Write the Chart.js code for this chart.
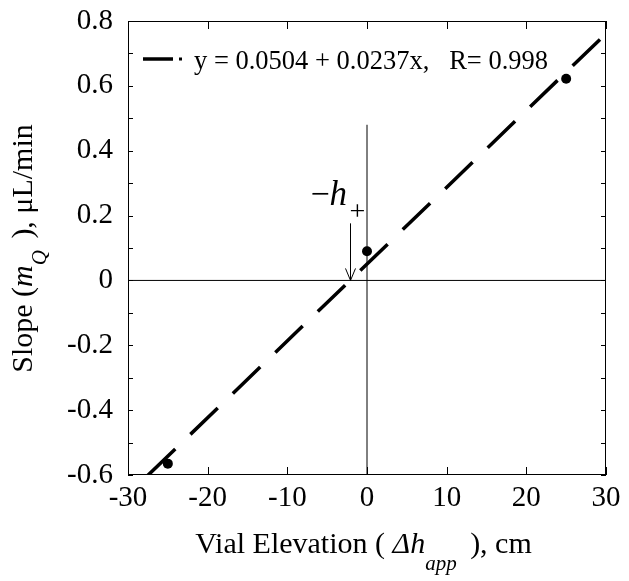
<!DOCTYPE html>
<html><head><meta charset="utf-8">
<script src="https://cdn.jsdelivr.net/npm/chart.js@4/dist/chart.umd.min.js"></script>
<style>html,body{margin:0;padding:0;background:#fff;} canvas{display:block;}</style>
</head><body>
<canvas id="c" width="629" height="581"></canvas>
<script>
// ---- data ----
const elevations = [-25, 0, 25];
const slopes = [-0.565, 0.09, 0.622];
const fitX = [-27.5, 30];
const fitY = [-0.601, 0.761];
const xTicks = [-30, -20, -10, 0, 10, 20, 30];
const yTicks = [-0.6, -0.4, -0.2, 0, 0.2, 0.4, 0.6, 0.8];
const yMinorTicks = [-0.5, -0.3, -0.1, 0.1, 0.3, 0.5, 0.7];
const vAxisX = [0, 0];
const vAxisY = [-0.6, 0.48];
const hAxisX = [-30, 30];
const hAxisY = [0, 0];
const arrowX = [-2.13, -2.13];
const arrowY = [0.176, 0];
const legendText = 'y = 0.0504 + 0.0237x,   R= 0.998';

const F = "'Liberation Serif','Times New Roman',serif";
Chart.defaults.font.family = F;
Chart.defaults.color = '#000';

function pts(xs, ys) { return xs.map((v, i) => ({x: v, y: ys[i]})); }

function drawPieces(ctx, pieces, startX, baseY) {
  let cx = startX;
  for (const p of pieces) {
    ctx.font = p.f;
    ctx.fillText(p.t, cx, baseY + (p.dy || 0));
    cx += ctx.measureText(p.t).width + (p.gap || 0);
  }
  return cx - startX;
}
function piecesWidth(ctx, pieces) {
  let w = 0;
  for (const p of pieces) { ctx.font = p.f; w += ctx.measureText(p.t).width + (p.gap || 0); }
  return w;
}

const deco = {
  id: 'deco',
  afterDraw(chart) {
    const {ctx, chartArea: a, scales: {x, y}} = chart;
    ctx.save();
    ctx.strokeStyle = '#000';
    ctx.fillStyle = '#000';
    ctx.lineWidth = 1;
    // frame
    ctx.strokeRect(a.left + 0.5, a.top + 0.5, a.right - a.left - 1, a.bottom - a.top - 1);
    // inward ticks
    ctx.beginPath();
    for (const v of xTicks) {
      const px = Math.round(x.getPixelForValue(v)) + 0.5;
      ctx.moveTo(px, a.bottom); ctx.lineTo(px, a.bottom - 8);
      ctx.moveTo(px, a.top); ctx.lineTo(px, a.top + 8);
    }
    for (const v of yTicks.concat(yMinorTicks)) {
      const py = Math.round(y.getPixelForValue(v)) + 0.5;
      ctx.moveTo(a.left, py); ctx.lineTo(a.left + 5, py);
      ctx.moveTo(a.right, py); ctx.lineTo(a.right - 5, py);
    }
    ctx.stroke();

    // legend
    ctx.lineWidth = 3.5;
    ctx.beginPath(); ctx.moveTo(143, 59); ctx.lineTo(173, 59); ctx.stroke();
    ctx.fillRect(179, 57.5, 3, 3);
    ctx.font = '26.5px ' + F;
    ctx.textBaseline = 'alphabetic';
    ctx.textAlign = 'left';
    ctx.fillText(legendText, 194, 68.5);

    // arrow annotation
    const ax = Math.round(x.getPixelForValue(arrowX[0])) + 0.5;
    const ay0 = y.getPixelForValue(arrowY[0]);
    const ay1 = y.getPixelForValue(arrowY[1]);
    ctx.lineWidth = 1;
    ctx.beginPath();
    ctx.moveTo(ax, ay0); ctx.lineTo(ax, ay1);
    ctx.moveTo(ax - 5, ay1 - 12); ctx.lineTo(ax, ay1); ctx.lineTo(ax + 5, ay1 - 12);
    ctx.stroke();
    // -h+ label
    ctx.font = '34px ' + F;
    ctx.fillText('\u2212', ax - 40, ay0 - 18);
    ctx.font = 'italic 35px ' + F;
    ctx.fillText('h', ax - 21, ay0 - 18);
    ctx.font = '28px ' + F;
    ctx.fillText('+', ax - 1, ay0 - 3);

    // x axis title
    const xp = [
      {t: 'Vial Elevation ( ', f: '30px ' + F},
      {t: '\u0394h', f: 'italic 30px ' + F},
      {t: 'app', f: 'italic 21px ' + F, dy: 17, gap: 6},
      {t: ' ), cm', f: '30px ' + F}
    ];
    const xw = piecesWidth(ctx, xp);
    drawPieces(ctx, xp, 363.5 - xw / 2, 553);

    // y axis title (rotated)
    const yp = [
      {t: 'Slope (', f: '30px ' + F},
      {t: 'm', f: 'italic 30px ' + F},
      {t: 'Q', f: 'italic 21px ' + F, dy: 14, gap: 4},
      {t: ' ), \u03bcL/min', f: '30px ' + F}
    ];
    const yw = piecesWidth(ctx, yp);
    ctx.translate(32, 248.5);
    ctx.rotate(-Math.PI / 2);
    drawPieces(ctx, yp, -yw / 2, 0);
    ctx.restore();
  }
};

new Chart(document.getElementById('c'), {
  type: 'scatter',
  data: {
    datasets: [
      {data: pts(hAxisX, hAxisY), showLine: true, borderColor: '#000', borderWidth: 1, pointRadius: 0},
      {data: pts(vAxisX, vAxisY), showLine: true, borderColor: '#000', borderWidth: 1, pointRadius: 0},
      {data: pts(fitX, fitY), showLine: true, borderColor: '#000', borderWidth: 3.5, borderDash: [38, 21], pointRadius: 0, borderCapStyle: 'butt'},
      {data: pts(elevations, slopes), showLine: false, pointRadius: 5, pointBackgroundColor: '#000', pointBorderColor: '#000', pointBorderWidth: 0}
    ]
  },
  options: {
    responsive: false,
    animation: false,
    events: [],
    layout: {padding: {left: 0, right: 23, top: 21, bottom: 0}},
    plugins: {legend: {display: false}, tooltip: {enabled: false}},
    scales: {
      x: {
        type: 'linear', min: -30, max: 30,
        afterBuildTicks: s => { s.ticks = xTicks.map(v => ({value: v})); },
        afterFit: s => { s.height = 106; s.paddingLeft = 0; s.paddingRight = 0; },
        grid: {display: false, drawTicks: false},
        border: {display: false},
        ticks: {font: {size: 29}, color: '#000', padding: 6, autoSkip: false, maxRotation: 0,
          callback: v => String(v)}
      },
      y: {
        type: 'linear', min: -0.6, max: 0.8,
        afterBuildTicks: s => { s.ticks = yTicks.map(v => ({value: v})); },
        afterFit: s => { s.width = 128; s.paddingTop = 0; s.paddingBottom = 0; },
        grid: {display: false, drawTicks: false},
        border: {display: false},
        ticks: {font: {size: 29}, color: '#000', padding: 15, autoSkip: false,
          callback: v => String(Number(v.toFixed(1)))}
      }
    }
  },
  plugins: [deco]
});
</script>
</body></html>
